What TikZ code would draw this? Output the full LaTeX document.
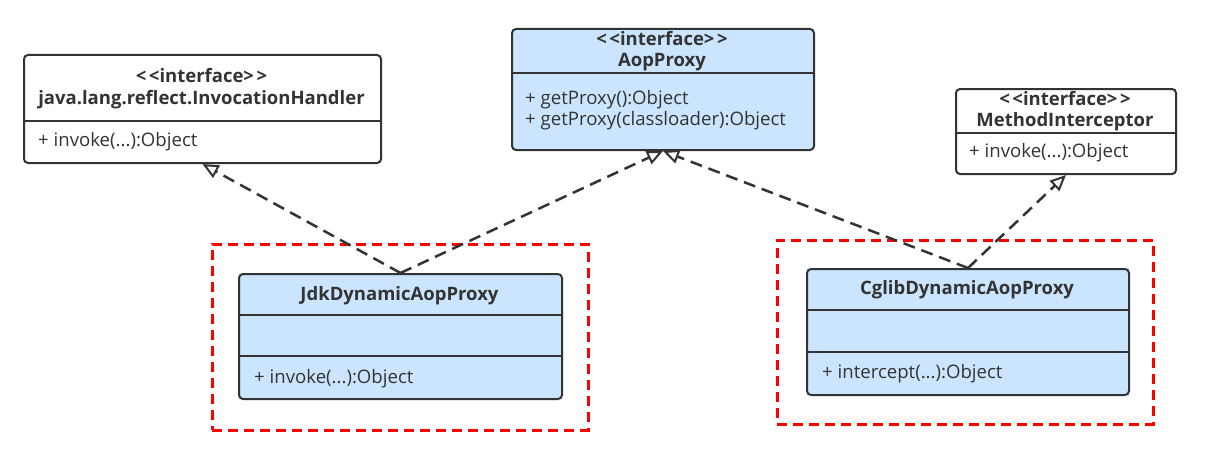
\documentclass[tikz,border=0pt]{standalone}
\usepackage{fontspec}
\setmainfont{Open Sans}
\usetikzlibrary{arrows.meta}
\definecolor{boxfill}{HTML}{CCE5FF}
\definecolor{edge}{HTML}{333333}
\definecolor{redline}{HTML}{FF0000}
\tikzset{
  cls/.style={draw=edge, line width=2pt, rounded corners=4pt, inner sep=0pt, anchor=north west},
  bluecls/.style={cls, fill=boxfill},
  whitecls/.style={cls, fill=white},
  sep/.style={draw=edge, line width=2pt},
  ttl/.style={font=\bfseries\fontsize{18.5}{21}\selectfont, text=edge, align=center, inner sep=0pt},
  attr/.style={font=\fontsize{18.6}{21}\selectfont, text=edge, anchor=west, align=left, inner sep=0pt},
  frame/.style={draw=redline, line width=2.5pt, dash pattern=on 10pt off 6pt},
  impl/.style={draw=edge, line width=2.5pt, dash pattern=on 12pt off 7pt,
    -{Triangle[open, fill=white, length=16pt, width=14pt, line width=2pt]}}
}
\newcommand{\iface}{<\kern2.5pt<interface>\kern2.5pt>}
\begin{document}
\begin{tikzpicture}[x=1pt, y=-1pt]
\useasboundingbox (0,0) rectangle (1217,452);
% red frames
\node[frame, minimum width=376pt, minimum height=186pt, anchor=north west, inner sep=0pt] (f1) at (211,243) {};
\node[frame, minimum width=376pt, minimum height=184pt, anchor=north west, inner sep=0pt] (f2) at (776,239) {};
% InvocationHandler
\node[whitecls, minimum width=357pt, minimum height=108pt] (ih) at (23,54) {};
\draw[sep] (23,121) -- (380,121);
\node[ttl] (iht) at (201.5,89) {\iface\\[1pt]java.lang.reflect.InvocationHandler};
\node[attr] (iha) at (38,142) {+ invoke(...):Object};
% AopProxy
\node[bluecls, minimum width=302pt, minimum height=121pt] (aop) at (511,28) {};
\draw[sep] (511,73) -- (813,73);
\node[ttl] (aopt) at (662,51) {\iface\\AopProxy};
\node[attr] (aopa) at (525,110.5) {+ getProxy():Object\\+ getProxy(classloader):Object};
% MethodInterceptor
\node[whitecls, minimum width=220pt, minimum height=85pt] (mi) at (955,88) {};
\draw[sep] (955,133) -- (1175,133);
\node[ttl] (mit) at (1065,111) {\iface\\MethodInterceptor};
\node[attr] (mia) at (969,153) {+ invoke(...):Object};
% JdkDynamicAopProxy
\node[bluecls, minimum width=323pt, minimum height=125pt] (jdk) at (238,273) {};
\draw[sep] (238,315) -- (561,315);
\draw[sep] (238,356) -- (561,356);
\node[ttl] (jdkt) at (399.5,296) {JdkDynamicAopProxy};
\node[attr] (jdka) at (254,379) {+ invoke(...):Object};
% CglibDynamicAopProxy
\node[bluecls, minimum width=322pt, minimum height=126pt] (cg) at (806,268) {};
\draw[sep] (806,310) -- (1128,310);
\draw[sep] (806,352) -- (1128,352);
\node[ttl] (cgt) at (967,290) {CglibDynamicAopProxy};
\node[attr] (cga) at (822,374) {+ intercept(...):Object};
% connectors
\draw[impl] (jdk.north) -- (ih.south);
\draw[impl] (jdk.north) -- (aop.south);
\draw[impl] (cg.north) -- (aop.south);
\draw[impl] (cg.north) -- (mi.south);
\end{tikzpicture}
\end{document}
